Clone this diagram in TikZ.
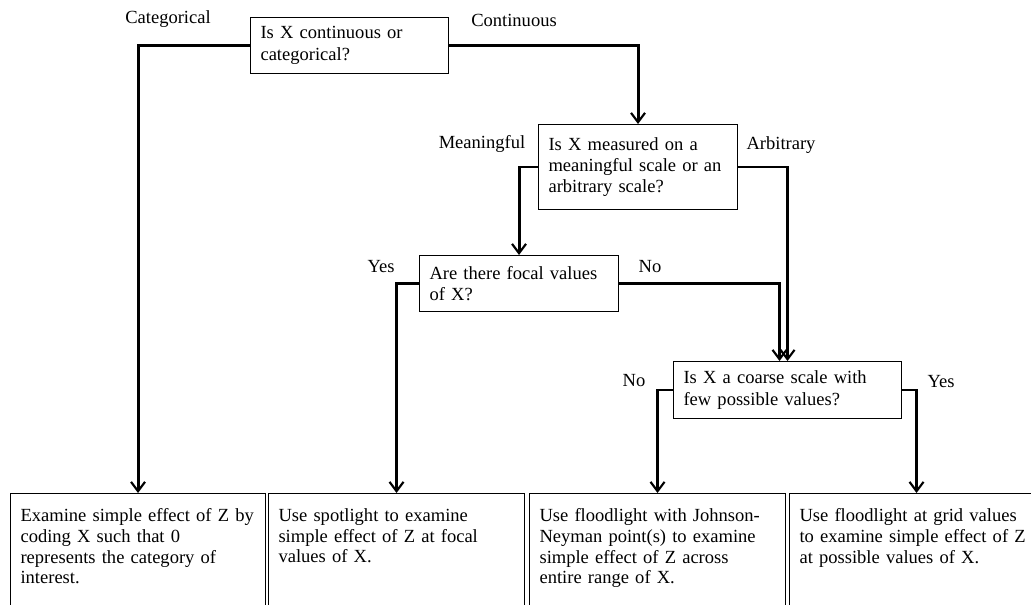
\documentclass[tikz,border=0pt]{standalone}
\usepackage{fontspec}
\setmainfont{Liberation Serif}
\usepackage{tikz}
\usetikzlibrary{arrows.meta,positioning}
\newlength\pxu
\setlength\pxu{0.75pt}
\tikzset{
    %Define standard arrow tip
    >={Straight Barb[length=7pt,width=10.5pt,line width=1.6pt]},
    %Define style for question boxes
    question/.style={
           rectangle,
           draw=black, line width=0.8pt,
           anchor=north west,
           inner xsep=10\pxu,
           align=left,
           font=\fontsize{13.9}{16}\selectfont},
    %Define style for answer boxes
    answer/.style={
           rectangle,
           draw=black, line width=0.8pt,
           anchor=north west,
           inner xsep=10\pxu,
           inner ysep=15\pxu,
           text depth=110\pxu,
           align=left,
           font=\fontsize{13.9}{15.6}\selectfont},
    %Define style for branch labels
    branch/.style={
           inner sep=0pt,
           font=\fontsize{13.9}{16}\selectfont},
    % Define arrow style
    pil/.style={
           ->,
           line width=2.2pt}
}

\begin{document}
\begin{tikzpicture}[x=0.75pt,y=-0.75pt]
\useasboundingbox (0,0) rectangle (1031,605);
\clip (0,0) rectangle (1031,605);
% questions
\node[question, text width=178\pxu, minimum height=56\pxu] (1) at (250,17) {Is X continuous or\\ categorical?};
\node[question, text width=179\pxu, minimum height=85\pxu] (2) at (538,124) {Is X measured on a\\ meaningful scale or an\\ arbitrary scale?};
\node[question, text width=179\pxu, minimum height=56\pxu] (3) at (419,255) {Are there focal values\\ of X?};
\node[question, text width=208\pxu, minimum height=57\pxu] (4) at (673,361) {Is X a coarse scale with\\ few possible values?};
% answers
\node[answer, text width=235\pxu] (5) at (10,493) {Examine simple effect of Z by\\ coding X such that 0\\ represents the category of\\ interest.};
\node[answer, text width=236\pxu] (6) at (268,493) {Use spotlight to examine\\ simple effect of Z at focal\\ values of X.};
\node[answer, text width=236\pxu] (7) at (529,493) {Use floodlight with Johnson-\\ Neyman point(s) to examine\\ simple effect of Z across\\ entire range of X.};
\node[answer, text width=234\pxu] (8) at (789,493) {Use floodlight at grid values\\ to examine simple effect of Z\\ at possible values of X.};
% branch labels
\node[branch] (l1) at (168,19) {Categorical};
\node[branch] (l2) at (514,20) {Continuous};
\node[branch] (l3) at (482,144) {Meaningful};
\node[branch] (l4) at (781,145) {Arbitrary};
\node[branch] (l5) at (381,267) {Yes};
\node[branch] (l6) at (650,267) {No};
\node[branch] (l7) at (634,381) {No};
\node[branch] (l8) at (941,382) {Yes};
% connectors
\draw[pil] (1.west) -| (5.north);
\draw[pil] (1.east) -| (2.north);
\draw[pil] (2.west) -| (3.north);
\draw[pil] (2.east) -| (4.north);
\draw[pil] (3.west) -| (6.north);
\draw[pil] (3.east) -| ([xshift=-8\pxu]4.north);
\draw[pil] (4.west) -| (7.north);
\draw[pil] (4.east) -| (8.north);
\end{tikzpicture}
\end{document}
